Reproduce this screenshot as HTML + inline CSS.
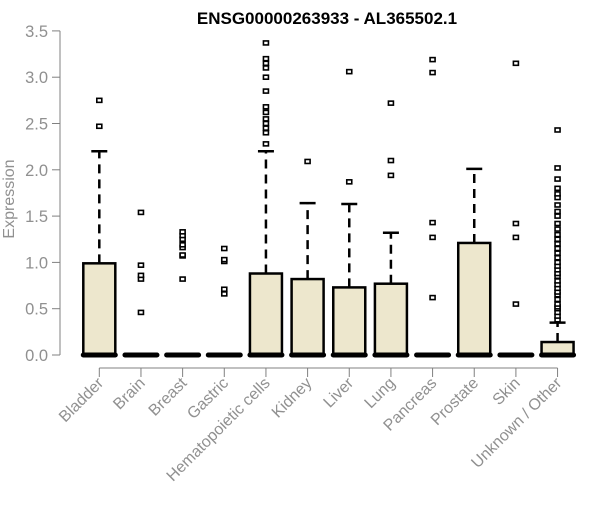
<!DOCTYPE html>
<html><head><meta charset="utf-8"><style>
body{margin:0;background:#fff;}
svg text{font-family:"Liberation Sans",Arial,sans-serif;}
</style></head><body>
<svg id="chart" width="600" height="500" xmlns="http://www.w3.org/2000/svg">
<text x="327" y="24" text-anchor="middle" font-size="17" font-weight="bold">ENSG00000263933 - AL365502.1</text>
<text transform="translate(14,199) rotate(-90)" text-anchor="middle" font-size="16" fill="#909090">Expression</text>
<g id="yaxis"></g>
<g id="xaxis"></g>
<g id="boxes"></g>
</svg>
<script>
const categories=["Bladder","Brain","Breast","Gastric","Hematopoietic cells","Kidney","Liver","Lung","Pancreas","Prostate","Skin","Unknown / Other"];
const q1=[0,0,0,0,0,0,0,0,0,0,0,0];
const medians=[0,0,0,0,0,0,0,0,0,0,0,0];
const q3=[0.99,0,0,0,0.88,0.82,0.73,0.77,0,1.21,0,0.14];
const whiskerHigh=[2.2,0,0,0,2.2,1.64,1.63,1.32,0,2.01,0,0.35];
const outliers=[[2.47,2.75],[0.46,0.82,0.86,0.97,1.54],[0.82,1.07,1.08,1.16,1.19,1.25,1.29,1.33],[0.66,0.71,1.01,1.03,1.15],
[2.28,2.4,2.45,2.5,2.55,2.62,2.68,2.85,3.0,3.1,3.15,3.2,3.37],[2.09],[1.87,3.06],[1.94,2.1,2.72],[0.62,1.27,1.43,3.05,3.19],[],[0.55,1.27,1.42,3.15],
[0.38,0.42,0.46,0.5,0.52,0.55,0.6,0.65,0.68,0.72,0.76,0.8,0.85,0.88,0.92,0.96,1.0,1.05,1.1,1.15,1.2,1.25,1.3,1.36,1.42,1.5,1.55,1.62,1.7,1.74,1.8,1.9,2.02,2.43]];
const yTicks=[0,0.5,1,1.5,2,2.5,3,3.5];
const NS="http://www.w3.org/2000/svg";
function y(v){return 355-v*92.6;}
function x(i){return 99.3+i*41.66;}
function mk(t,a,p){const e=document.createElementNS(NS,t);for(const k in a)e.setAttribute(k,a[k]);p.appendChild(e);return e;}
const ya=document.getElementById('yaxis'),xa=document.getElementById('xaxis'),bx=document.getElementById('boxes');
mk('line',{x1:60,x2:60,y1:y(0),y2:y(3.5),stroke:'#808080'},ya);
yTicks.forEach(t=>{
 const l=mk('line',{x1:52,x2:60,y1:y(t),y2:y(t),stroke:'#808080'},ya);
 
 
 const tx=mk('text',{x:48,y:y(t)+6,'text-anchor':'end','font-size':16.5,fill:'#909090'},ya);
 tx.textContent=t.toFixed(1);
 
 
});
mk('line',{x1:x(0),x2:x(categories.length-1),y1:368,y2:368,stroke:'#808080'},xa);
categories.forEach((c,i)=>{
 const cx=x(i);
 const l=mk('line',{x1:cx,x2:cx,y1:368,y2:377,stroke:'#808080'},xa);
 
 
 const tx=mk('text',{transform:`translate(${cx+5},${384}) rotate(-45)`,'text-anchor':'end','font-size':16,fill:'#909090'},xa);
 tx.textContent=c;
 
 
 const g=mk('g',{},bx);
 
 
 const hw=16;
 if(whiskerHigh[i]>q3[i]){
  mk('line',{x1:cx,x2:cx,y1:y(q3[i]),y2:y(whiskerHigh[i]),stroke:'#000','stroke-width':2.5,'stroke-dasharray':'9,6'},g);
  mk('line',{x1:cx-8,x2:cx+8,y1:y(whiskerHigh[i]),y2:y(whiskerHigh[i]),stroke:'#000','stroke-width':2.5},g);
 }
 if(q3[i]>q1[i]) mk('rect',{x:cx-hw,y:y(q3[i]),width:hw*2,height:y(q1[i])-y(q3[i]),fill:'#ede7cd',stroke:'#000','stroke-width':2.5},g);
 mk('line',{x1:cx-hw,x2:cx+hw,y1:y(medians[i]),y2:y(medians[i]),stroke:'#000','stroke-width':5,'stroke-linecap':'round'},g);
 outliers[i].forEach(v=>{
  const r=mk('rect',{x:cx-2.5,y:y(v)-2,width:5,height:4,fill:'#fff',stroke:'#000','stroke-width':1.6},g);
  
  
 });
});
</script>
</body></html>
